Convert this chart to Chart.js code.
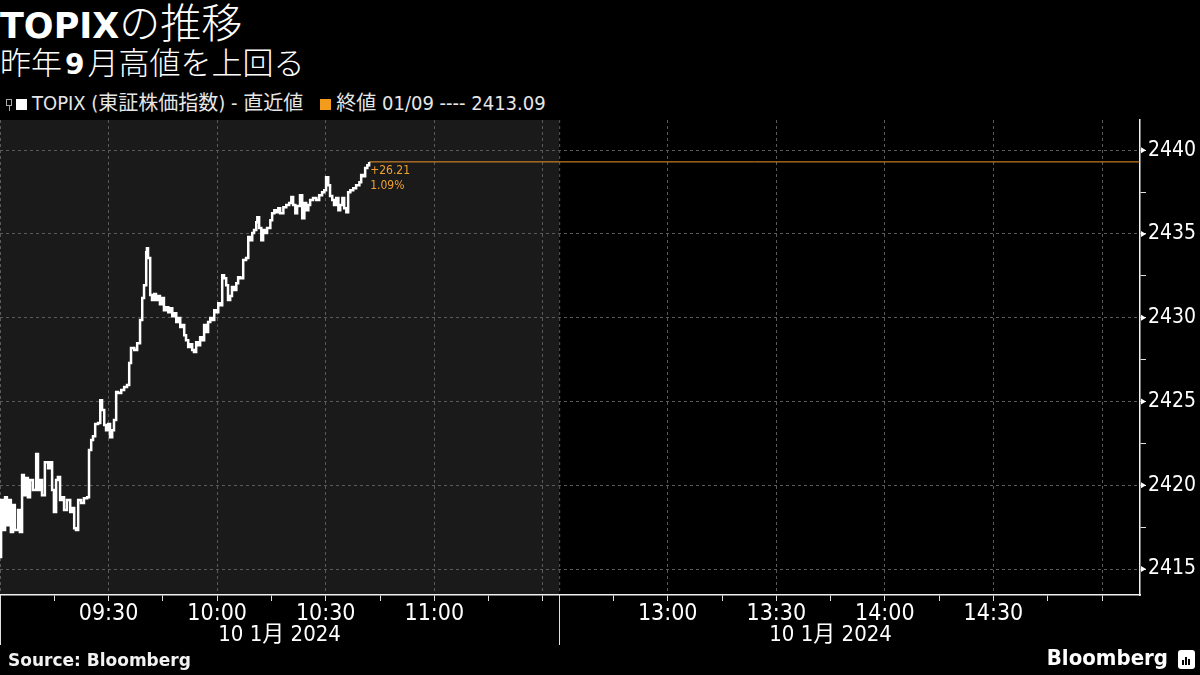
<!DOCTYPE html>
<html>
<head>
<meta charset="utf-8">
<script src="https://cdn.jsdelivr.net/npm/chart.js@4.4.1/dist/chart.umd.min.js"></script>
<style>
  html, body { margin: 0; padding: 0; background: #000; width: 1200px; height: 675px; overflow: hidden; }
  body { position: relative; color: #fff; font-family: "DejaVu Sans Condensed", "DejaVu Sans", "Noto Sans CJK JP", sans-serif; }
  #title { position: absolute; left: 0; top: -2px; font-size: 35px; line-height: 44px; white-space: nowrap; }
  #title b { font-family: "DejaVu Sans", sans-serif; font-weight: bold; }
  #title span { font-family: "Noto Sans CJK JP", sans-serif; font-weight: 300; font-size: 41px; }
  #subtitle { position: absolute; left: 0; top: 41px; font-family: "Noto Sans CJK JP", sans-serif; font-weight: 300; font-size: 31px; line-height: 40px; white-space: nowrap; }
  #subtitle b { font-family: "DejaVu Sans", sans-serif; font-weight: bold; font-size: 28px; margin: 0 3px; }
  #legend { position: absolute; left: 6px; top: 90px; font-size: 20px; line-height: 26px; color: #e6e6e6; white-space: nowrap; }
  #legend .sq { display: inline-block; width: 11px; height: 11px; margin-right: 5px; vertical-align: 0px; }
  #legend .ico { display: inline-block; width: 6px; height: 13px; margin-right: 4px; vertical-align: -1px; position: relative; }
  #legend .ico:before { content: ""; position: absolute; left: 0; top: 1px; width: 4px; height: 5px; border: 1px solid #aaa; }
  #legend .ico:after { content: ""; position: absolute; left: 3px; top: 8px; width: 1px; height: 5px; background: #aaa; }
  #legend .gap { display: inline-block; width: 17px; }
  #chart { position: absolute; left: 0; top: 115px; }
  #source { position: absolute; left: 8px; top: 650px; font-family: "DejaVu Sans", sans-serif; font-weight: bold; font-size: 17px; color: #f2f2f2; }
  #brand { position: absolute; right: 32px; top: 645px; font-family: "DejaVu Sans Condensed", "DejaVu Sans", sans-serif; font-weight: bold; font-size: 22px; color: #fff; }
  #logo { position: absolute; right: 5px; top: 650px; width: 17px; height: 19px; background: #fff; border-radius: 3px; }
  #logo i { position: absolute; bottom: 4px; width: 2px; background: #000; }
</style>
</head>
<body>
<div id="title"><b>TOPIX</b><span>の推移</span></div>
<div id="subtitle">昨年<b>9</b>月高値を上回る</div>
<div id="legend"><span class="ico"></span><span class="sq" style="background:#fff"></span>TOPIX (東証株価指数) - 直近値<span class="gap"></span><span class="sq" style="background:#f39c1c"></span>終値 01/09 ---- 2413.09</div>
<canvas id="chart" width="1200" height="545"></canvas>
<div id="source">Source: Bloomberg</div>
<div id="brand">Bloomberg</div>
<div id="logo"><i style="left:4px;height:5px"></i><i style="left:7px;height:8px"></i><i style="left:10px;height:6px"></i></div>
<script>
// trading minutes since 09:00 (lunch break removed), 10 Jan 2024
const minutes = [0,0.3,0.8,1.4,1.9,2.5,3.0,3.6,4.1,5.0,
  5.5,6.1,6.6,7.2,7.7,8.3,9.1,10.0,10.5,11.1,
  11.6,12.4,13.3,13.8,14.4,14.9,15.5,16.0,16.6,17.1,
  17.7,18.5,19.4,19.9,20.5,21.0,21.6,22.4,23.2,24.1,
  24.6,25.2,25.7,26.3,27.1,27.7,28.2,28.8,29.3,29.9,
  30.4,31.0,31.5,32.1,32.6,33.5,34.3,35.1,35.7,36.2,
  37.1,37.9,38.7,39.3,39.8,40.4,40.6,40.9,41.5,42.0,
  42.6,43.1,43.7,44.2,44.8,45.3,45.9,46.5,47.0,47.6,
  48.1,48.7,49.2,49.8,50.3,50.9,51.4,52.0,52.5,53.1,
  53.6,54.2,54.7,55.3,55.9,56.4,57.0,57.5,58.1,58.6,
  59.2,59.7,60.3,60.8,61.4,61.9,62.5,63.0,63.6,64.1,
  64.7,65.3,65.8,66.4,67.2,68.0,68.6,69.1,69.7,70.2,
  70.8,71.1,71.6,72.2,72.7,73.3,73.8,74.7,75.2,75.8,
  76.3,76.9,77.4,78.3,79.1,79.9,80.5,81.0,81.6,82.1,
  82.9,83.5,84.1,84.6,85.2,85.7,86.5,87.4,88.2,89.0,
  89.6,90.1,90.7,91.2,91.8,92.3,92.9,93.5,94.0,94.6,
  95.1,95.7,96.2,96.8,97.6,98.4,99.3,99.8,100.4,100.9,
  101.5,102.0];

const topix = [2415.72,2419.12,2417.33,2419.29,2417.62,2419.12,2417.21,2418.82,2417.33,2418.52,
  2417.21,2420.61,2419.41,2420.43,2419.29,2420.31,2419.71,2421.86,2419.71,2420.31,
  2419.41,2421.38,2421.02,2421.38,2419.71,2418.40,2420.31,2420.49,2419.12,2419.29,
  2418.52,2419.12,2418.40,2418.64,2417.44,2417.33,2419.12,2418.94,2419.23,2419.29,
  2422.10,2422.70,2422.93,2423.65,2423.71,2425.08,2424.49,2423.59,2423.29,2423.65,
  2422.87,2423.29,2423.89,2425.56,2425.50,2425.68,2425.86,2425.98,2427.29,2428.19,
  2428.07,2428.48,2429.86,2431.17,2431.94,2433.91,2434.15,2433.56,2431.35,2431.05,
  2431.41,2431.05,2431.29,2430.81,2431.17,2430.45,2430.63,2430.33,2430.57,2430.09,
  2430.27,2429.74,2429.98,2429.44,2429.56,2428.96,2428.66,2428.25,2428.42,2428.07,
  2427.95,2428.54,2428.36,2428.84,2428.66,2429.56,2429.14,2429.74,2429.98,2429.86,
  2430.45,2430.33,2430.87,2430.75,2432.54,2432.36,2431.94,2431.05,2431.29,2431.83,
  2431.65,2432.06,2432.42,2432.36,2433.44,2433.56,2434.81,2434.63,2435.05,2435.23,
  2435.70,2436.00,2435.35,2434.63,2435.23,2435.05,2435.35,2435.82,2436.24,2436.42,
  2436.30,2436.54,2436.24,2436.60,2436.72,2436.84,2437.20,2436.72,2436.24,2436.66,
  2437.31,2435.94,2436.84,2436.42,2436.72,2437.02,2437.14,2437.02,2437.31,2437.49,
  2437.61,2438.39,2437.91,2437.26,2437.02,2436.72,2437.14,2436.42,2436.72,2437.14,
  2436.54,2436.30,2437.49,2437.61,2437.73,2437.91,2438.09,2438.51,2438.45,2438.93,
  2439.10,2439.30];

const prevClose = 2413.09;
const dateLabel = '10 1月 2024';

// axis: morning 09:00-11:30, afternoon 12:30-15:00 starts after the break marker
const afternoonStart = 154.5;
const axisEnd = 315;
const tickTimes = ['09:15','09:30','09:45','10:00','10:15','10:30','10:45','11:00','11:15','11:30',
  '12:45','13:00','13:15','13:30','13:45','14:00','14:15','14:30','14:45','15:00'];
const labeledTimes = ['09:30','10:00','10:30','11:00','13:00','13:30','14:00','14:30'];
const yTicks = [2415, 2417.5, 2420, 2422.5, 2425, 2427.5, 2430, 2432.5, 2435, 2437.5, 2440];
const yMin = 2413.45, yMax = 2441.8;

function timeToAxis(t) {
  const [h, m] = t.split(':').map(Number);
  const mins = h * 60 + m;
  return mins < 12 * 60 ? mins - 9 * 60 : afternoonStart + mins - (12 * 60 + 30);
}
const tickVals = tickTimes.map(timeToAxis);
const labelOf = {};
tickTimes.forEach((t, i) => { labelOf[tickVals[i]] = t; });
function isHalfHour(v) { const t = labelOf[v]; return t && (t.endsWith(':00') || t.endsWith(':30')); }

const lastT = minutes[minutes.length - 1];
const lastV = topix[topix.length - 1];

const FONT = '"DejaVu Sans Condensed", "DejaVu Sans", "Noto Sans CJK JP", sans-serif';

const sessionPlugin = {
  id: 'sessions',
  beforeDraw(chart) {
    const { ctx, chartArea: a, scales: { x } } = chart;
    const xd = x.getPixelForValue(afternoonStart);
    ctx.save();
    ctx.fillStyle = '#1a1a1a';
    ctx.fillRect(a.left, a.top, xd - a.left, a.bottom - a.top);
    // dashed break marker and left edge inside the plot
    ctx.strokeStyle = '#5a5a5a';
    ctx.lineWidth = 1;
    ctx.setLineDash([3, 3]);
    [xd + 0.5, a.left + 0.5].forEach(px => {
      ctx.beginPath(); ctx.moveTo(px, a.top); ctx.lineTo(px, a.bottom); ctx.stroke();
    });
    ctx.restore();
  },
  afterDraw(chart) {
    const { ctx, chartArea: a, scales: { x, y } } = chart;
    const xd = x.getPixelForValue(afternoonStart);
    ctx.save();
    // solid separators below the axis
    ctx.strokeStyle = '#e0e0e0';
    ctx.lineWidth = 1;
    [Math.round(xd) + 0.5, a.left + 0.5].forEach(px => {
      ctx.beginPath(); ctx.moveTo(px, a.bottom); ctx.lineTo(px, a.bottom + 50); ctx.stroke();
    });
    // session date labels
    ctx.fillStyle = '#fff';
    ctx.font = '22px ' + FONT;
    ctx.textAlign = 'center';
    ctx.textBaseline = 'middle';
    const x15 = x.getPixelForValue(timeToAxis('15:00'));
    ctx.fillText(dateLabel, (a.left + xd) / 2, a.bottom + 40);
    ctx.fillText(dateLabel, (xd + x15) / 2, a.bottom + 40);
    // arrow heads on labelled y ticks
    yTicks.filter(v => v % 5 === 0).forEach(v => {
      const py = y.getPixelForValue(v);
      ctx.beginPath();
      ctx.moveTo(a.right + 1, py - 3);
      ctx.lineTo(a.right + 6, py);
      ctx.lineTo(a.right + 1, py + 3);
      ctx.closePath();
      ctx.fill();
    });
    // change annotation next to the last price
    const lx = x.getPixelForValue(lastT);
    const ly = y.getPixelForValue(lastV);
    const chg = lastV - prevClose;
    ctx.fillStyle = '#f0a030';
    ctx.font = '12px ' + FONT;
    ctx.textAlign = 'left';
    ctx.textBaseline = 'top';
    ctx.fillText((chg >= 0 ? '+' : '') + chg.toFixed(2), lx + 1, ly + 3);
    ctx.fillText((chg / prevClose * 100).toFixed(2) + '%', lx + 1, ly + 18);
    ctx.restore();
  }
};

new Chart(document.getElementById('chart'), {
  type: 'line',
  data: {
    datasets: [
      {
        data: minutes.map((m, i) => ({ x: m, y: topix[i] })),
        borderColor: '#ffffff',
        borderWidth: 2.5,
        pointRadius: 0,
        stepped: true,
        order: 1
      },
      {
        data: [{ x: lastT, y: lastV }, { x: axisEnd, y: lastV }],
        borderColor: '#f0962a',
        borderWidth: 1,
        pointRadius: 0,
        order: 2
      }
    ]
  },
  options: {
    responsive: false,
    animation: false,
    events: [],
    layout: { padding: { top: 5, left: 0, right: 0, bottom: 0 } },
    plugins: { legend: { display: false }, tooltip: { enabled: false } },
    scales: {
      x: {
        type: 'linear',
        min: 0,
        max: axisEnd,
        afterBuildTicks(s) { s.ticks = tickVals.map(v => ({ value: v })); },
        afterFit(s) { s.height = 65; s.paddingLeft = 0; s.paddingRight = 0; },
        ticks: {
          autoSkip: false,
          maxRotation: 0,
          color: '#fff',
          padding: -1,
          font: { size: 23, family: FONT },
          callback(v) { const t = labelOf[v]; return labeledTimes.includes(t) ? t : ''; }
        },
        grid: {
          color: c => (c.tick && isHalfHour(c.tick.value)) ? '#5a5a5a' : 'rgba(0,0,0,0)',
          tickColor: '#e0e0e0',
          tickLength: 6,
          lineWidth: 1
        },
        border: { color: '#f0f0f0', width: 1.5, dash: [3, 3] }
      },
      y: {
        position: 'right',
        min: yMin,
        max: yMax,
        afterBuildTicks(s) { s.ticks = yTicks.map(v => ({ value: v })); },
        afterFit(s) { s.width = 60; s.paddingTop = 0; s.paddingBottom = 0; },
        ticks: {
          color: '#fff',
          padding: 2,
          font: { size: 21, family: FONT },
          callback(v) { return v % 5 === 0 ? String(v) : ''; }
        },
        grid: {
          color: c => (c.tick && c.tick.value % 5 === 0) ? '#5a5a5a' : 'rgba(0,0,0,0)',
          tickColor: '#e0e0e0',
          tickLength: 6,
          lineWidth: 1
        },
        border: { color: '#f0f0f0', width: 1.5, dash: [3, 3] }
      }
    }
  },
  plugins: [sessionPlugin]
});
</script>
</body>
</html>
